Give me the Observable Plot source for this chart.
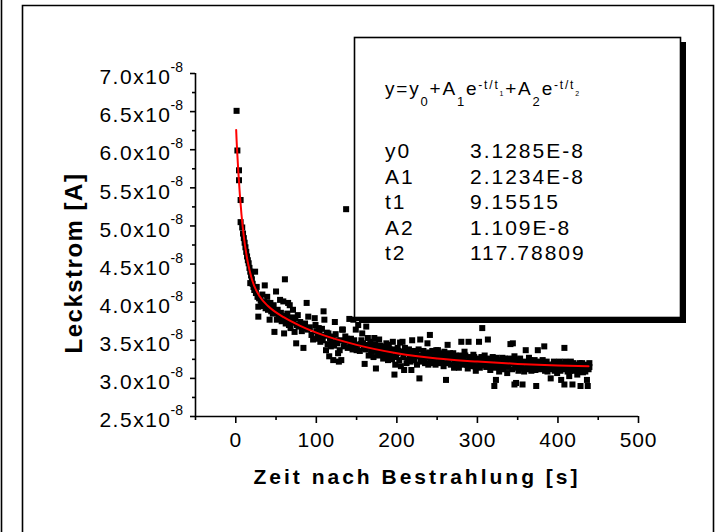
<!DOCTYPE html>
<html><head><meta charset="utf-8">
<script src="https://cdn.jsdelivr.net/npm/d3@7"></script>
<script src="https://cdn.jsdelivr.net/npm/@observablehq/plot@0.6"></script>
<style>
html,body{margin:0;padding:0;background:#fff;}
#chart svg{display:block;}
</style></head>
<body><div id="chart"></div>
<script>
// ---- data (current in units of 1e-8 A) ----
const xDomain = [-50, 500];
const yDomain = [2.5, 7.0];
const xTicks = [0, 100, 200, 300, 400, 500];
const xMinorTicks = [-50, 50, 150, 250, 350, 450];
const yTicks = [2.5, 3.0, 3.5, 4.0, 4.5, 5.0, 5.5, 6.0, 6.5, 7.0];
const yMinorTicks = [2.75, 3.25, 3.75, 4.25, 4.75, 5.25, 5.75, 6.25, 6.75];
const yExponent = "-8";
const xLabel = "Zeit nach Bestrahlung [s]";
const yLabel = "Leckstrom [A]";

// measured leakage current [time s, current 1e-8 A]
const leakage = [
[1,6.51],[2,5.99],[4,5.73],[4,5.60],[6,5.34],[6,5.05],[8,4.98],[9,4.90],[10,4.84],[11,4.78],
[12,4.72],[13,4.66],[14,4.60],[15,4.55],[16,4.51],[17,4.45],[18,4.40],[18,4.25],[19,4.35],[20,4.30],
[21,4.24],[22,4.20],[23,4.16],[24,4.40],[25,4.12],[26,4.20],[27,4.07],[28,3.81],[28,3.94],[29,4.05],
[30,4.07],[31,4.02],[32,3.98],[33,4.10],[34,3.95],[35,4.00],[36,4.22],[37,3.92],[38,3.99],[39,4.07],
[40,3.90],[41,3.95],[42,3.77],[43,3.99],[44,3.88],[45,3.93],[46,3.85],[47,3.96],[48,3.61],[49,3.86],
[50,4.14],[51,3.77],[52,3.90],[53,3.84],[54,3.80],[55,4.03],[56,3.86],[57,3.75],[58,3.82],[59,4.01],
[60,3.59],[61,4.30],[62,3.72],[63,3.78],[64,3.85],[65,3.99],[66,3.70],[67,3.96],[68,3.66],[69,3.76],
[70,3.80],[71,3.90],[72,3.73],[73,3.61],[74,3.79],[75,3.46],[76,3.70],[77,3.83],[78,3.68],[79,3.70],
[80,3.74],[82,3.62],[84,3.40],[85,3.66],[86,3.72],[88,3.99],[89,3.64],[90,3.81],[92,3.67],[94,3.57],
[96,3.51],[98,3.79],[99,3.70],[100,3.62],[102,3.58],[104,3.61],[105,3.48],[107,3.65],[109,3.88],[110,3.77],
[112,3.37],[113,3.60],[115,3.59],[116,3.29],[118,3.42],[120,3.55],[121,3.24],[123,3.74],[125,3.50],[127,3.33],
[128,3.22],[129,3.37],[131,3.24],[132,3.64],[133,3.64],[135,3.48],[137,5.22],[138,3.52],[140,3.51],[141,3.78],
[142,3.47],[144,3.44],[146,3.77],[148,3.42],[149,3.64],[150,3.37],[152,3.70],[153,3.79],[155,3.45],[157,3.59],
[159,3.40],[160,3.19],[162,3.68],[164,3.53],[166,3.42],[168,3.35],[170,3.40],[172,3.53],[174,3.13],[176,3.39],
[178,3.51],[180,3.37],[182,3.40],[185,3.31],[187,3.46],[189,3.24],[191,3.38],[193,3.29],[195,3.48],[197,3.05],
[198,3.18],[200,3.33],[202,3.36],[204,3.47],[205,3.16],[207,3.48],[209,3.11],[211,3.33],[214,3.24],[216,3.30],
[218,3.11],[219,3.50],[221,3.28],[222,3.24],[224,3.32],[226,3.29],[228,3.00],[229,3.51],[231,3.30],[232,3.27],
[234,3.25],[236,3.32],[238,3.46],[239,3.18],[241,3.57],[243,3.28],[245,3.20],[247,3.29],[249,3.37],[251,3.37],
[253,3.25],[255,3.22],[257,3.29],[259,3.35],[261,2.98],[263,3.44],[264,3.24],[266,3.33],[268,3.27],[270,3.33],
[272,3.22],[274,3.20],[276,3.22],[278,3.26],[280,3.48],[282,3.24],[284,3.35],[286,3.22],[288,3.13],[289,3.48],
[291,3.28],[293,3.24],[295,3.31],[297,3.16],[299,3.24],[300,3.16],[302,3.48],[304,3.22],[306,3.66],[308,3.20],
[310,3.25],[313,3.51],[314,3.22],[316,3.11],[318,3.21],[320,3.18],[321,2.90],[323,2.98],[324,3.27],[326,3.20],
[327,3.09],[329,3.22],[331,3.27],[333,3.18],[335,3.20],[337,3.07],[339,3.22],[341,3.45],[342,3.22],[344,3.46],
[346,2.92],[346,3.29],[348,2.94],[350,3.16],[352,3.19],[354,3.21],[356,2.92],[358,3.09],[360,3.37],[362,3.18],
[364,3.27],[366,3.15],[368,3.20],[370,3.18],[372,3.11],[373,2.90],[375,3.37],[377,3.17],[379,3.20],[381,3.24],
[383,3.42],[385,3.15],[387,3.09],[389,3.18],[391,3.00],[393,3.16],[395,3.22],[397,3.14],[399,3.07],[401,3.18],
[404,2.98],[406,3.15],[408,3.40],[408,2.92],[410,3.17],[412,3.09],[414,3.03],[416,3.22],[418,2.92],[420,3.16],
[422,3.13],[424,3.05],[426,3.17],[428,2.90],[430,3.20],[432,3.14],[434,3.09],[436,2.98],[437,2.90],[439,3.20],
[439,3.15],
[101,3.52],[103,3.66],[106,3.55],[108,3.50],[111,3.56],[114,3.45],[117,3.53],[119,3.47],[122,3.43],[124,3.58],
[126,3.46],[130,3.50],[134,3.42],[136,3.55],[139,3.40],[143,3.52],[145,3.38],[147,3.50],[151,3.44],[154,3.36],
[156,3.50],[158,3.46],[161,3.38],[163,3.44],[165,3.30],[167,3.48],[169,3.41],[171,3.28],[173,3.45],[175,3.36],
[177,3.30],[179,3.43],[181,3.32],[183,3.26],[184,3.42],[186,3.35],[188,3.30],[190,3.44],[192,3.34],[194,3.25],
[196,3.38],[199,3.28],[201,3.40],[203,3.24],[206,3.35],[208,3.28],[210,3.40],[212,3.20],[213,3.34],[215,3.38],
[217,3.22],[220,3.36],[223,3.30],[225,3.18],[227,3.38],[230,3.22],[233,3.36],[235,3.20],[237,3.28],[240,3.34],
[242,3.22],[244,3.36],[246,3.24],[248,3.18],[250,3.30],[252,3.20],[254,3.33],[256,3.27],[258,3.16],[260,3.28],
[262,3.20],[265,3.30],[267,3.18],[269,3.26],[271,3.14],[273,3.30],[275,3.26],[277,3.14],[279,3.30],[281,3.18],
[283,3.27],[285,3.30],[287,3.18],[290,3.26],[292,3.16],[294,3.22],[296,3.28],[298,3.10],[301,3.26],[303,3.14],
[305,3.28],[307,3.17],[309,3.30],[311,3.15],[312,3.24],[315,3.26],[317,3.18],[319,3.28],[322,3.14],[325,3.22],
[328,3.16],[330,3.24],[332,3.12],[334,3.26],[336,3.15],[338,3.17],[340,3.26],[343,3.12],[345,3.20],[347,3.14],
[349,3.24],[351,3.10],[353,3.26],[355,3.17],[357,3.13],[359,3.22],[361,3.12],[363,3.18],[365,3.24],[367,3.10],
[369,3.14],[371,3.24],[374,3.14],[376,3.22],[378,3.12],[380,3.15],[382,3.20],[384,3.10],[386,3.22],[388,3.13],
[390,3.17],[392,3.12],[394,3.18],[396,3.10],[398,3.20],[400,3.14],[402,3.22],[403,3.10],[405,3.19],[407,3.12],
[409,3.22],[411,3.14],[413,3.18],[415,3.10],[417,3.15],[419,3.20],[421,3.10],[423,3.18],[425,3.12],[427,3.20],
[429,3.15],[431,3.08],[433,3.18],[435,3.14],[438,3.12]
];

// fitted curve [time s, current 1e-8 A]
const fitCurve = [
[0.5,6.26],[1,6.13],[2,5.93],[3,5.74],[5,5.42],[7,5.16],[10,4.86],[15,4.52],[20,4.30],[30,4.07],
[40,3.95],[60,3.80],[80,3.69],[100,3.60],[150,3.44],[200,3.33],[250,3.26],[300,3.22],[350,3.19],
[400,3.17],[438,3.16]
];

// fit legend
const fitNames = ["y0", "A1", "t1", "A2", "t2"];
const fitValues = ["3.1285E-8", "2.1234E-8", "9.15515", "1.109E-8", "117.78809"];

const font = "'Liberation Sans', Arial, Helvetica, sans-serif";

const plot = Plot.plot({
  width: 718,
  height: 532,
  marginLeft: 195,
  marginRight: 80,
  marginTop: 73,
  marginBottom: 116,
  style: {fontFamily: font, background: "white", color: "black"},
  x: {domain: xDomain},
  y: {domain: yDomain},
  marks: [
    Plot.ruleX([xDomain[0]], {y1: yDomain[0], y2: yDomain[1], stroke: "black", strokeWidth: 1.6}),
    Plot.ruleY([yDomain[0]], {x1: xDomain[0], x2: xDomain[1], stroke: "black", strokeWidth: 1.6}),
    Plot.axisX(xTicks, {tickSize: 7, tickFormat: () => "", label: null, strokeWidth: 1.6}),
    Plot.axisX(xMinorTicks, {tickSize: 4, tickFormat: () => "", label: null, strokeWidth: 1.6}),
    Plot.axisY(yTicks, {tickSize: 5, tickFormat: () => "", label: null, strokeWidth: 1.6}),
    Plot.axisY(yMinorTicks, {tickSize: 3, tickFormat: () => "", label: null, strokeWidth: 1.6}),
    Plot.text(xTicks, {x: d => d, frameAnchor: "bottom", dy: 24, fontSize: 21, textAnchor: "middle",
      lineAnchor: "middle", text: d => String(d)}),
    Plot.text(yTicks, {y: d => d, frameAnchor: "left", dx: -24, dy: 4, fontSize: 21, textAnchor: "end",
      lineAnchor: "middle", text: d => d.toFixed(1) + "x10"}),
    Plot.text(yTicks, {y: d => d, frameAnchor: "left", dx: -25, dy: -6, fontSize: 14, textAnchor: "start",
      lineAnchor: "middle", text: () => yExponent}),
    Plot.text([yLabel], {frameAnchor: "left", dx: -121, dy: 18, rotate: -90, fontSize: 24, fontWeight: "bold",
      textAnchor: "middle", lineAnchor: "middle", text: d => d}),
    Plot.text([xLabel], {frameAnchor: "bottom", dy: 61, fontSize: 21, fontWeight: "bold", textAnchor: "middle",
      lineAnchor: "middle", text: d => d}),
    Plot.dot(leakage, {x: d => d[0], y: d => d[1], symbol: "square", r: 3.4, fill: "black", stroke: "none"}),
    Plot.line(fitCurve, {x: d => d[0], y: d => d[1], stroke: "#ff0000", strokeWidth: 2, curve: "monotone-x"})
  ]
});
document.getElementById("chart").appendChild(plot);

const svg = d3.select(plot);
// letter spacing as in the reference rendering
svg.selectAll("text").each(function () {
  const t = this.textContent;
  let ls = null;
  if (t === xLabel) ls = 3;
  else if (t === yLabel) ls = 1.5;
  else if (t.endsWith("x10")) ls = 1.5;
  else if (xTicks.map(String).includes(t)) ls = 0.8;
  if (ls !== null) d3.select(this).attr("letter-spacing", ls);
});

// decoration: outer frame and fit-parameter box
const deco = svg.append("g").attr("fill", "none").attr("stroke", "black").attr("stroke-width", 1.6);
deco.append("line").attr("x1", 1.5).attr("x2", 1.5).attr("y1", 0).attr("y2", 532);
deco.append("path").attr("d", "M22.5,532V5.5H713.5V532");

const lg = svg.append("g").attr("text-anchor", "start").style("font-family", font);
lg.append("rect").attr("x", 359).attr("y", 42).attr("width", 327).attr("height", 281).attr("fill", "black");
lg.append("rect").attr("x", 354.5).attr("y", 37.5).attr("width", 326).attr("height", 280)
  .attr("fill", "white").attr("stroke", "black").attr("stroke-width", 1.6);

const eq = lg.append("text").attr("x", 385).attr("y", 95).attr("font-size", 19)
  .attr("letter-spacing", 1.8).attr("fill", "black");
const parts = [
  ["y=y", 19, 0], ["0", 13, 11], ["+A", 19, -11], ["1", 13, 11], ["e", 19, -11],
  ["-t/t", 12, -6], ["1", 7, 7], ["+A", 19, -1], ["2", 13, 11], ["e", 19, -11],
  ["-t/t", 12, -6], ["2", 7, 7]
];
parts.forEach(([t, fs, dy]) => eq.append("tspan").attr("font-size", fs).attr("dy", dy).text(t));

fitNames.forEach((n, i) => {
  const y = 158 + i * 25.5;
  lg.append("text").attr("x", 385).attr("y", y).attr("font-size", 21).attr("letter-spacing", 2)
    .attr("fill", "black").text(n);
  lg.append("text").attr("x", 470).attr("y", y).attr("font-size", 21).attr("letter-spacing", 2)
    .attr("fill", "black").text(fitValues[i]);
});
</script>
</body></html>
